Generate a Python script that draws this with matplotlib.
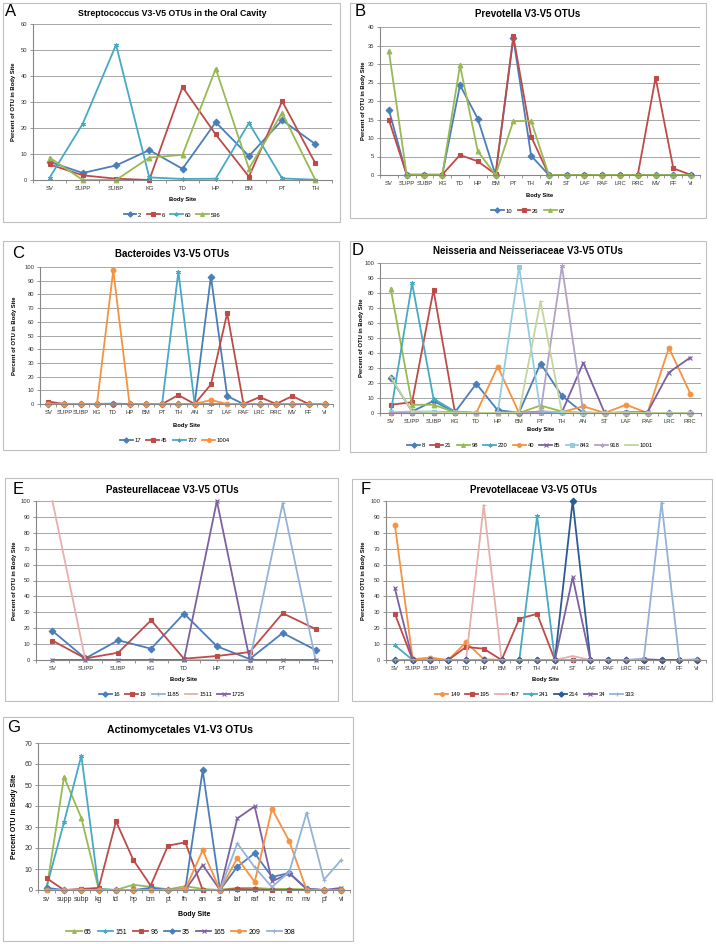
import matplotlib
matplotlib.use('Agg')
import matplotlib.pyplot as plt
from matplotlib.patches import Rectangle

plt.rcParams['font.family'] = ['Liberation Sans', 'DejaVu Sans']

W, H = 716, 944

# body sites
ORAL_SITES = ['SV', 'SUPP', 'SUBP', 'KG', 'TD', 'HP', 'BM', 'PT', 'TH']
ALL_SITES = ['SV', 'SUPP', 'SUBP', 'KG', 'TD', 'HP', 'BM', 'PT', 'TH',
             'AN', 'ST', 'LAF', 'RAF', 'LRC', 'RRC', 'MV', 'PF', 'VI']
NEIS_SITES = ['SV', 'SUPP', 'SUBP', 'KG', 'TD', 'HP', 'BM', 'PT', 'TH',
              'AN', 'ST', 'LAF', 'RAF', 'LRC', 'RRC']
ACTINO_SITES = ['sv', 'supp', 'subp', 'kg', 'td', 'hp', 'bm', 'pt', 'th',
                'an', 'st', 'laf', 'raf', 'lrc', 'rrc', 'mv', 'pf', 'vi']

# A - Streptococcus
A_OTU2 = [7.0, 2.7, 5.6, 11.5, 4.3, 22.2, 9.2, 23.0, 13.8]
A_OTU6 = [6.0, 1.8, 0.5, 0.0, 35.8, 17.5, 1.3, 30.3, 6.4]
A_OTU60 = [0.9, 21.7, 52.0, 1.0, 0.4, 0.5, 21.9, 0.6, 0.1]
A_OTU596 = [8.6, 0.0, 0.0, 8.6, 9.7, 42.8, 4.4, 25.8, 0.0]

# B - Prevotella
B_OTU10 = [17.6, 0, 0, 0, 24.3, 15.2, 0, 37.0, 5.2, 0, 0, 0, 0, 0, 0, 0, 0, 0]
B_OTU26 = [14.9, 0.1, 0.1, 0.1, 5.4, 3.7, 0.2, 37.5, 10.4, 0, 0, 0, 0, 0, 0, 26.3, 1.8, 0]
B_OTU67 = [33.5, 0, 0, 0, 29.6, 6.4, 0, 14.6, 14.6, 0, 0, 0, 0, 0, 0, 0, 0, 0]

# C - Bacteroides
C_OTU17 = [0, 0, 0, 0, 0, 0, 0, 0, 0, 0, 93.0, 5.8, 0, 0, 0, 0, 0, 0]
C_OTU45 = [1.8, 0, 0, 0, 0, 0, 0, 0, 6.5, 0, 14.3, 66.3, 0, 5.1, 0, 5.8, 0, 0]
C_OTU707 = [0, 0, 0, 0, 0.3, 0, 0, 0, 96.6, 0, 0, 0, 0, 0, 0, 0, 0, 0]
C_OTU1004 = [0, 0, 0, 0, 97.6, 0, 0, 0, 0, 0, 2.9, 0, 0, 0, 0, 0, 0, 0]

# D - Neisseria
D_OTU8 = [23.5, 1.0, 8.0, 0.5, 19.5, 1.8, 0.3, 33.0, 11.5, 0, 0, 0, 0, 0, 0]
D_OTU21 = [5.5, 7.2, 82.0, 0.5, 0, 0, 0, 1.0, 0.5, 0, 0, 0, 0, 0, 0]
D_OTU98 = [83.0, 5.5, 5.5, 0.5, 0, 0, 0, 5.0, 1.0, 0, 0, 0, 0, 0, 0]
D_OTU220 = [0, 86.5, 9.5, 1.0, 0, 0, 0, 0, 0, 0, 0, 0, 0, 0, 0]
D_OTU40 = [0, 0, 0, 0, 0, 31.0, 0, 0.5, 0.5, 4.5, 0, 5.5, 0, 43.5, 13.0]
D_OTU85 = [0, 0, 0, 0, 0, 0, 0, 0, 0.5, 33.5, 0, 0.5, 0.5, 27.0, 37.0]
D_OTU843 = [0.5, 1.0, 1.0, 0.5, 0, 0, 97.5, 1.0, 0.5, 0, 0, 0, 0, 0, 0]
D_OTU918 = [0, 0, 0, 1.0, 0, 0, 0, 0.5, 98.0, 0.5, 0, 0, 0, 0, 0]
D_OTU1001 = [24.0, 1.0, 0.5, 0, 0, 0, 0.5, 74.5, 0.5, 0, 0, 0, 0, 0, 0]

# E - Pasteurellaceae
E_OTU16 = [18.3, 1.0, 12.4, 7.1, 29.2, 8.6, 0.6, 17.0, 6.3]
E_OTU19 = [12.2, 1.0, 4.6, 25.0, 0.8, 2.5, 5.0, 29.4, 19.5]
E_OTU1185 = [0, 0, 0, 0, 0, 0, 0, 98.5, 0]
E_OTU1511 = [100, 0, 0, 0, 0, 0, 0, 0, 0]
E_OTU1725 = [0, 0, 0, 0, 0, 100, 0, 0, 0]

# F - Prevotellaceae
F_OTU149 = [85.0, 0.5, 1.5, 0, 11.1, 0.5, 0, 0, 0, 0, 0, 0, 0, 0, 0, 0, 0, 0]
F_OTU195 = [29.0, 0, 0, 0, 8.2, 7.1, 0, 26.0, 29.0, 0, 0, 0, 0, 0, 0, 0, 0, 0]
F_OTU457 = [0, 0, 0, 0, 0, 97.5, 0, 0, 0, 0, 2.5, 0, 0, 0, 0, 0, 0, 0]
F_OTU241 = [9.2, 0, 0, 0, 0, 0, 0, 0, 90.5, 0, 0, 0, 0, 0, 0, 0, 0, 0]
F_OTU214 = [0, 0, 0, 0, 0, 0, 0, 0, 0, 0, 100, 0, 0, 0, 0, 0, 0, 0]
F_OTU34 = [45.0, 0, 0, 0, 0, 0, 0, 0, 0, 0, 52.0, 0, 0, 0, 0.5, 0, 0, 0]
F_OTU333 = [0, 0, 0, 0, 0, 0, 0, 0, 0, 0, 0, 0, 0, 0, 0.5, 99.0, 0, 0.5]

# G - Actinomycetales
G_OTU65 = [0.5, 53.8, 34.3, 0.5, 0, 2.5, 1.5, 0.3, 1.8, 0.5, 0, 1.0, 1.0, 0.5, 0.5, 0.3, 0, 0]
G_OTU151 = [1.6, 32.2, 64.0, 0.5, 0, 0, 0, 0, 0, 0, 0, 0, 0, 0, 0, 0, 0, 0]
G_OTU96 = [5.6, 0, 0.5, 1.0, 32.7, 14.3, 2.1, 21.1, 22.7, 0, 0, 0.5, 0.3, 0, 0, 0, 0, 0]
G_OTU35 = [1.0, 0, 0, 0, 0, 0, 1.0, 0, 0.5, 57.0, 0, 11.1, 17.5, 6.2, 8.1, 0.5, 0, 0]
G_OTU165 = [0, 0, 0, 0, 0, 0, 0, 0, 0, 11.9, 0, 34.1, 39.8, 4.1, 7.9, 0.5, 0, 1.0]
G_OTU209 = [0, 0, 0, 0, 0, 0, 0, 0, 0.5, 18.9, 0, 15.2, 3.8, 38.7, 23.2, 0, 0, 0]
G_OTU308 = [0, 0, 0, 0, 0, 0, 0, 0, 0, 0, 0, 22.2, 10.8, 1.4, 8.7, 36.8, 4.9, 14.4]

BLUE = '#4A7EBB'
RED = '#BE4B48'
GREEN = '#98B954'
AQUA = '#46AAC5'
ORANGE = '#F69240'
PURPLE = '#7D60A0'
LIGHTBLUE = '#95B3D7'
PINK = '#E6B0AE'
LPURPLE = '#B3A2C7'
LGREEN = '#C3D69B'
LAQUA = '#93CDDD'
DBLUE = '#2C5A92'
STAR = (6, 2, 0)


def draw_panel(fig, box, plot, letter, letter_xy, title, title_xy, sites, series,
               ymax, ylabel, ylabel_x, xlabel_y, legend_xy, fs=4.2, fs_title=7.0):
    x0, y0, x1, y1 = box
    fig.patches.append(Rectangle((x0 / W, 1 - y1 / H), (x1 - x0) / W, (y1 - y0) / H,
                                 transform=fig.transFigure, fill=False,
                                 edgecolor='#BFBFBF', lw=0.8))
    px0, py0, px1, py1 = plot
    ax = fig.add_axes([px0 / W, 1 - py1 / H, (px1 - px0) / W, (py1 - py0) / H])
    xs = list(range(len(sites)))
    for label, vals, color, marker in series:
        ax.plot(xs, vals, color=color, marker=marker, lw=1.3, ms=3.4, mfc=color,
                mec=color, mew=0.8, label=label, clip_on=False)
    ax.set_xlim(-0.5, len(sites) - 0.5)
    ax.set_ylim(0, ymax)
    ax.set_yticks(range(0, ymax + 1, 10 if ymax > 40 else 5))
    ax.set_xticks(xs)
    ax.set_xticklabels(sites)
    ax.set_xticks([i - 0.5 for i in range(len(sites) + 1)], minor=True)
    ax.tick_params(axis='x', which='major', length=0, labelsize=fs, pad=4,
                   labelcolor='#333333')
    ax.tick_params(axis='x', which='minor', length=2, color='#868686', width=0.6)
    ax.tick_params(axis='y', length=2, labelsize=fs, color='#868686', width=0.6,
                   pad=2, labelcolor='#333333')
    ax.grid(axis='y', color='#A6A6A6', lw=0.7)
    ax.set_axisbelow(True)
    for s in ['top', 'right']:
        ax.spines[s].set_visible(False)
    for s in ['left', 'bottom']:
        ax.spines[s].set_color('#868686')
        ax.spines[s].set_linewidth(0.8)

    fig.text(letter_xy[0] / W, 1 - letter_xy[1] / H, letter, fontsize=12,
             ha='center', va='center')
    fig.text(title_xy[0] / W, 1 - title_xy[1] / H, title, fontsize=fs_title,
             fontweight='bold', ha='center', va='center')
    fig.text((px0 + px1) / 2 / W, 1 - xlabel_y / H, 'Body Site', fontsize=fs,
             fontweight='bold', ha='center', va='center')
    fig.text(ylabel_x / W, 1 - (py0 + py1) / 2 / H, ylabel, fontsize=fs,
             fontweight='bold', ha='center', va='center', rotation=90)
    handles, labels = ax.get_legend_handles_labels()
    fig.legend(handles, labels, loc='center',
               bbox_to_anchor=(legend_xy[0] / W, 1 - legend_xy[1] / H),
               ncol=len(labels), frameon=False, fontsize=fs, handlelength=2.2,
               columnspacing=0.9, handletextpad=0.3, borderpad=0, markerscale=0.8)
    return ax


fig = plt.figure(figsize=(W / 100, H / 100), dpi=100)
YLAB = 'Percent of OTU in Body Site'

draw_panel(fig, (3, 3, 340, 222), (33, 24, 332, 180), 'A', (11, 11),
           'Streptococcus V3-V5 OTUs in the Oral Cavity', (172, 13), ORAL_SITES,
           [('2', A_OTU2, BLUE, 'D'), ('6', A_OTU6, RED, 's'),
            ('60', A_OTU60, AQUA, STAR), ('596', A_OTU596, GREEN, '^')],
           60, YLAB, 14, 200, (172, 215), fs_title=6.3)

draw_panel(fig, (350, 3, 706, 218), (380, 27, 700, 175), 'B', (360, 11),
           'Prevotella V3-V5 OTUs', (528, 14), ALL_SITES,
           [('10', B_OTU10, BLUE, 'D'), ('26', B_OTU26, RED, 's'),
            ('67', B_OTU67, GREEN, '^')],
           40, YLAB, 364, 195, (528, 211))

draw_panel(fig, (3, 241, 339, 450), (40, 267, 333, 404), 'C', (18, 254),
           'Bacteroides V3-V5 OTUs', (172, 254), ALL_SITES,
           [('17', C_OTU17, BLUE, 'D'), ('45', C_OTU45, RED, 's'),
            ('707', C_OTU707, AQUA, STAR), ('1004', C_OTU1004, ORANGE, 'o')],
           100, YLAB, 15, 425, (175, 440))

draw_panel(fig, (350, 241, 706, 452), (380, 263, 701, 413), 'D', (358, 250),
           'Neisseria and Neisseriaceae V3-V5 OTUs', (528, 251), NEIS_SITES,
           [('8', D_OTU8, BLUE, 'D'), ('21', D_OTU21, RED, 's'),
            ('98', D_OTU98, GREEN, '^'), ('220', D_OTU220, AQUA, STAR),
            ('40', D_OTU40, ORANGE, 'o'), ('85', D_OTU85, PURPLE, 'x'),
            ('843', D_OTU843, LAQUA, 's'), ('918', D_OTU918, LPURPLE, STAR),
            ('1001', D_OTU1001, LGREEN, '_')],
           100, YLAB, 361, 430, (530, 445))

draw_panel(fig, (5, 478, 338, 701), (36, 501, 332, 660), 'E', (18, 490),
           'Pasteurellaceae V3-V5 OTUs', (172, 490), ORAL_SITES,
           [('16', E_OTU16, BLUE, 'D'), ('19', E_OTU19, RED, 's'),
            ('1185', E_OTU1185, LIGHTBLUE, '+'), ('1511', E_OTU1511, PINK, '_'),
            ('1725', E_OTU1725, PURPLE, 'x')],
           100, YLAB, 15, 680, (172, 694))

draw_panel(fig, (352, 479, 712, 701), (386, 501, 706, 660), 'F', (366, 490),
           'Prevotellaceae V3-V5 OTUs', (533, 490), ALL_SITES,
           [('149', F_OTU149, ORANGE, 'o'), ('195', F_OTU195, RED, 's'),
            ('457', F_OTU457, PINK, '_'), ('241', F_OTU241, AQUA, STAR),
            ('214', F_OTU214, DBLUE, 'D'), ('34', F_OTU34, PURPLE, 'x'),
            ('333', F_OTU333, LIGHTBLUE, '+')],
           100, YLAB, 364, 679, (535, 694))

draw_panel(fig, (3, 717, 353, 941), (38, 743, 350, 890), 'G', (14, 728),
           'Actinomycetales V1-V3 OTUs', (180, 730), ACTINO_SITES,
           [('65', G_OTU65, GREEN, '^'), ('151', G_OTU151, AQUA, STAR),
            ('96', G_OTU96, RED, 's'), ('35', G_OTU35, BLUE, 'D'),
            ('165', G_OTU165, PURPLE, 'x'), ('209', G_OTU209, ORANGE, 'o'),
            ('308', G_OTU308, LIGHTBLUE, '+')],
           70, 'Percent OTU in Body Site', 15, 914, (181, 932), fs=5.0, fs_title=7.6)

fig.savefig('out.png', dpi=100)
